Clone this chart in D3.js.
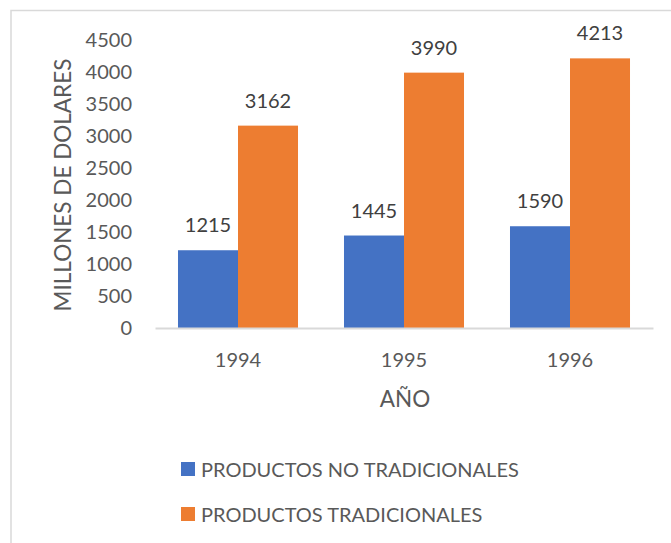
<!DOCTYPE html>
<html>
<head>
<meta charset="utf-8">
<script src="https://cdn.jsdelivr.net/npm/d3@7"></script>
<style>
  body { margin: 0; background: #fff; }
  text { font-family: Lato, "Open Sans", sans-serif; fill: #595959; }
</style>
</head>
<body>
<script>
var years = ["1994", "1995", "1996"];
var seriesNames = ["PRODUCTOS NO TRADICIONALES", "PRODUCTOS TRADICIONALES"];
var noTradicionales = [1215, 1445, 1590];
var tradicionales = [3162, 3990, 4213];
var yTicks = [0, 500, 1000, 1500, 2000, 2500, 3000, 3500, 4000, 4500];
var colors = ["#4472C4", "#ED7D31"];

var svg_width = 671, svg_height = 543;
var margin = { top: 40, right: 18, bottom: 215, left: 155 };
var width = svg_width - margin.left - margin.right;
var height = svg_height - margin.top - margin.bottom;

var svg = d3.select("body").append("svg")
  .attr("width", svg_width)
  .attr("height", svg_height);

// chart border
svg.append("rect")
  .attr("x", 11).attr("y", 10.5)
  .attr("width", 680).attr("height", 560)
  .attr("fill", "none")
  .attr("stroke", "#d9d9d9")
  .attr("stroke-width", 1.5);

var chartGroup = svg.append("g")
  .attr("transform", `translate(${margin.left}, ${margin.top})`);

var x0 = d3.scaleBand().domain(years).range([0, width]).paddingInner(0.277).paddingOuter(0.1385);
var x1 = d3.scaleBand().domain([0, 1]).range([0, x0.bandwidth()]);
var y = d3.scaleLinear().domain([0, 4500]).range([height, 0]);

var data = years.map(function(yr, i) {
  return { year: yr, values: [noTradicionales[i], tradicionales[i]] };
});

// y tick labels (no axis line)
chartGroup.selectAll(".ytick")
  .data(yTicks)
  .enter().append("text")
  .attr("x", -23)
  .attr("y", d => y(d))
  .attr("dy", "0.35em")
  .attr("text-anchor", "end")
  .style("font-size", "20px")
  .text(d => d);

var groups = chartGroup.selectAll(".grp")
  .data(data)
  .enter().append("g")
  .attr("transform", d => `translate(${x0(d.year)},0)`);

groups.selectAll("rect")
  .data(d => d.values)
  .enter().append("rect")
  .attr("x", (d, i) => x1(i))
  .attr("y", d => y(d))
  .attr("width", x1.bandwidth())
  .attr("height", d => height - y(d))
  .attr("fill", (d, i) => colors[i]);

groups.selectAll(".lbl")
  .data(d => d.values)
  .enter().append("text")
  .attr("x", (v, i) => x1(i) + x1.bandwidth() / 2)
  .attr("y", v => y(v) - 25)
  .attr("dy", "0.35em")
  .attr("text-anchor", "middle")
  .style("font-size", "20px")
  .style("fill", "#404040")
  .text(v => v);

// x axis
var bottomAxis = d3.axisBottom(x0).tickSize(0).tickPadding(25);
var xAxis = chartGroup.append("g")
  .attr("transform", `translate(0, ${height})`)
  .call(bottomAxis);
xAxis.select(".domain").attr("stroke", "#d9d9d9").attr("stroke-width", 2);
xAxis.selectAll("text")
  .style("font-size", "20px")
  .style("font-family", "Lato, sans-serif")
  .attr("fill", "#595959");

// axis titles
chartGroup.append("text")
  .attr("transform", "rotate(-90)")
  .attr("x", -(185 - margin.top))
  .attr("y", -92)
  .attr("dy", "0.35em")
  .attr("text-anchor", "middle")
  .style("font-size", "22.5px")
  .text("MILLONES DE DOLARES");

chartGroup.append("text")
  .attr("x", width / 2 + 1)
  .attr("y", height + 71)
  .attr("dy", "0.35em")
  .attr("text-anchor", "middle")
  .style("font-size", "22.5px")
  .text("AÑO");

// legend
var legend = svg.selectAll(".legend")
  .data(seriesNames)
  .enter().append("g")
  .attr("transform", (d, i) => `translate(181, ${462 + i * 45})`);

legend.append("rect")
  .attr("width", 14).attr("height", 14)
  .attr("fill", (d, i) => colors[i]);

legend.append("text")
  .attr("x", 20)
  .attr("y", 7.5)
  .attr("dy", "0.35em")
  .style("font-size", "20px")
  .text(d => d);
</script>
</body>
</html>
